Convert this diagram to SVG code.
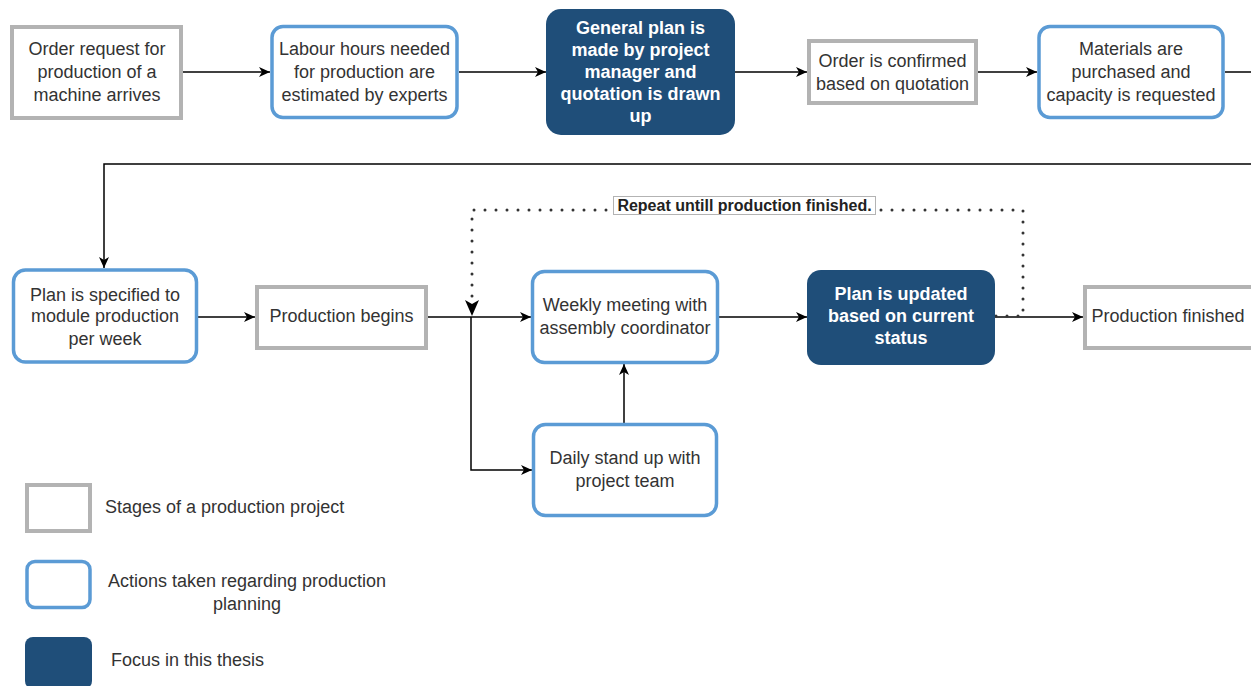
<svg xmlns="http://www.w3.org/2000/svg" width="1251" height="686" viewBox="0 0 1251 686">
  <style>
    .stage { fill: #ffffff; stroke: #b3b3b3; stroke-width: 4; }
    .action { fill: #ffffff; stroke: #5b9bd5; stroke-width: 3.5; }
    .focus { fill: #1f4e79; stroke: none; }
    .t { font-family: "Liberation Sans", Arial, sans-serif; font-size: 18px; fill: #333333; text-anchor: middle; }
    .tb { font-family: "Liberation Sans", Arial, sans-serif; font-size: 18px; font-weight: bold; fill: #ffffff; text-anchor: middle; }
    .tl { font-family: "Liberation Sans", Arial, sans-serif; font-size: 18px; fill: #333333; }
    .edge { fill: none; stroke: #000000; stroke-width: 1.5; }
    .dots { fill: none; stroke: #333333; stroke-width: 3; stroke-linecap: round; stroke-dasharray: 0 11; }
  </style>
  <defs>
    <marker id="arrow" markerWidth="12" markerHeight="10" refX="11" refY="5" orient="auto" markerUnits="userSpaceOnUse">
      <path d="M0,0 L11,5 L0,10 L3,5 Z" fill="#000000"/>
    </marker>
  </defs>
  <rect width="1251" height="686" fill="#ffffff"/>

  <!-- connectors -->
  <g id="connectors">
    <path class="edge" d="M183,72 L270,72" marker-end="url(#arrow)"/>
    <path class="edge" d="M459,72 L546,72" marker-end="url(#arrow)"/>
    <path class="edge" d="M735,72 L807,72" marker-end="url(#arrow)"/>
    <path class="edge" d="M978,72 L1037,72" marker-end="url(#arrow)"/>
    <path class="edge" d="M1225,72 L1251,72"/>
    <path class="edge" d="M1251,164 L104,164 L104,268" marker-end="url(#arrow)"/>
    <path class="edge" d="M198,317 L255,317" marker-end="url(#arrow)"/>
    <path class="edge" d="M428,317 L531,317" marker-end="url(#arrow)"/>
    <path class="edge" d="M471,317 L471,470 L532,470" marker-end="url(#arrow)"/>
    <path class="edge" d="M624,423 L624,364" marker-end="url(#arrow)"/>
    <path class="edge" d="M719,317 L807,317" marker-end="url(#arrow)"/>
    <path class="edge" d="M995,317 L1083,317" marker-end="url(#arrow)"/>
    <!-- repeat loop -->
    <path class="dots" d="M996,316 L1023,316 L1023,210 L472,210 L472,304"/>
    <path d="M465,300 L472,316 L479,300 L472,304 Z" fill="#000000"/>
    <g id="repeat-label">
      <rect x="613.5" y="196.5" width="262" height="18" fill="#ffffff" stroke="#b3b3b3" stroke-width="1"/>
      <text x="744.5" y="211" font-family="'Liberation Sans', Arial, sans-serif" font-size="16" font-weight="bold" fill="#222222" text-anchor="middle">Repeat untill production finished.</text>
    </g>
  </g>

  <!-- row 1 -->
  <g id="order-request">
    <rect class="stage" x="12" y="27" width="169" height="91"/>
    <text class="t" x="97" y="55">Order request for</text>
    <text class="t" x="97" y="78">production of a</text>
    <text class="t" x="97" y="101">machine arrives</text>
  </g>
  <g id="labour-hours">
    <rect class="action" x="272" y="26.5" width="185" height="91" rx="11"/>
    <text class="t" x="364.5" y="55">Labour hours needed</text>
    <text class="t" x="364.5" y="78">for production are</text>
    <text class="t" x="364.5" y="101">estimated by experts</text>
  </g>
  <g id="general-plan">
    <rect class="focus" x="546" y="9" width="189" height="126" rx="15"/>
    <text class="tb" x="640.5" y="34">General plan is</text>
    <text class="tb" x="640.5" y="56">made by project</text>
    <text class="tb" x="640.5" y="78">manager and</text>
    <text class="tb" x="640.5" y="100">quotation is drawn</text>
    <text class="tb" x="640.5" y="122">up</text>
  </g>
  <g id="order-confirmed">
    <rect class="stage" x="809" y="41" width="167" height="62"/>
    <text class="t" x="892.5" y="67">Order is confirmed</text>
    <text class="t" x="892.5" y="90">based on quotation</text>
  </g>
  <g id="materials">
    <rect class="action" x="1039" y="26.5" width="184" height="91" rx="11"/>
    <text class="t" x="1131" y="55">Materials are</text>
    <text class="t" x="1131" y="78">purchased and</text>
    <text class="t" x="1131" y="101">capacity is requested</text>
  </g>

  <!-- row 2 -->
  <g id="plan-specified">
    <rect class="action" x="13.5" y="270" width="183" height="92" rx="12"/>
    <text class="t" x="105" y="301">Plan is specified to</text>
    <text class="t" x="105" y="322">module production</text>
    <text class="t" x="105" y="345">per week</text>
  </g>
  <g id="production-begins">
    <rect class="stage" x="257" y="287" width="169" height="61"/>
    <text class="t" x="341.5" y="322">Production begins</text>
  </g>
  <g id="weekly-meeting">
    <rect class="action" x="532.5" y="271.5" width="185" height="91" rx="12"/>
    <text class="t" x="625" y="311">Weekly meeting with</text>
    <text class="t" x="625" y="334">assembly coordinator</text>
  </g>
  <g id="plan-updated">
    <rect class="focus" x="807" y="270" width="188" height="95" rx="14"/>
    <text class="tb" x="901" y="300">Plan is updated</text>
    <text class="tb" x="901" y="322">based on current</text>
    <text class="tb" x="901" y="344">status</text>
  </g>
  <g id="production-finished">
    <rect class="stage" x="1085" y="287" width="180" height="61"/>
    <text class="t" x="1168" y="322">Production finished</text>
  </g>
  <g id="daily-standup">
    <rect class="action" x="533.5" y="424.5" width="183" height="91" rx="12"/>
    <text class="t" x="625" y="464">Daily stand up with</text>
    <text class="t" x="625" y="487">project team</text>
  </g>

  <!-- legend -->
  <g id="legend-stage">
    <rect class="stage" x="27" y="485" width="63" height="46"/>
    <text class="tl" x="105" y="513">Stages of a production project</text>
  </g>
  <g id="legend-action">
    <rect class="action" x="27" y="561.5" width="63" height="46" rx="8"/>
    <text class="t" x="247" y="587">Actions taken regarding production</text>
    <text class="t" x="247" y="610">planning</text>
  </g>
  <g id="legend-focus">
    <rect class="focus" x="25" y="637" width="67" height="52" rx="8"/>
    <text class="tl" x="111" y="666">Focus in this thesis</text>
  </g>
</svg>
